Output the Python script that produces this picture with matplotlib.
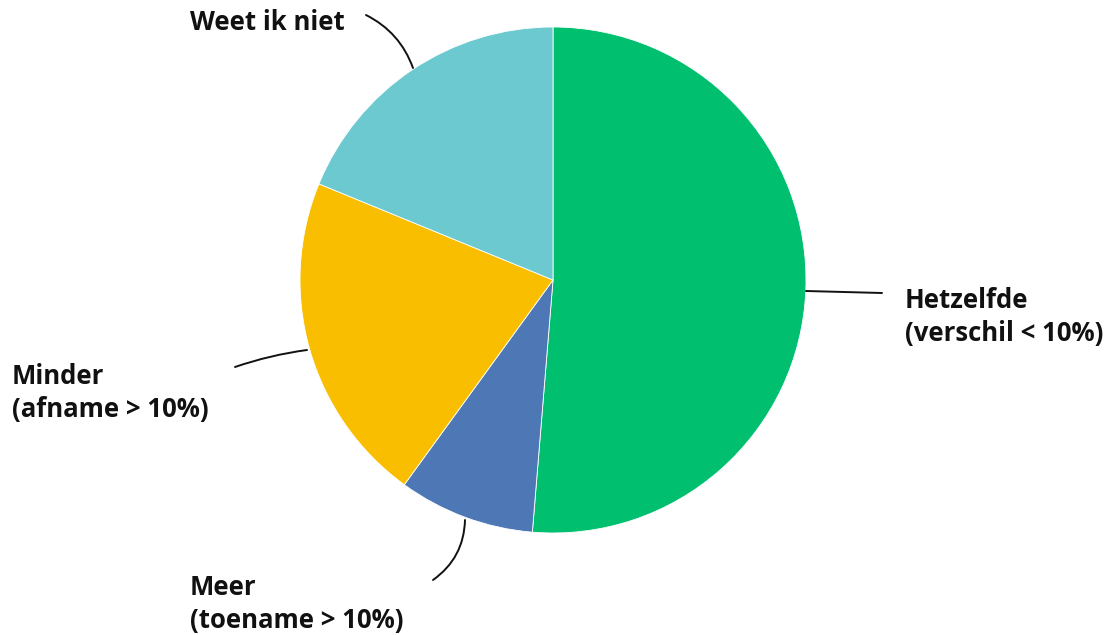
import matplotlib.pyplot as plt

# slices, clockwise from 12 o'clock
labels = ['Hetzelfde\n(verschil < 10%)', 'Meer\n(toename > 10%)',
          'Minder\n(afname > 10%)', 'Weet ik niet']
values = [51.3, 8.7, 21.2, 18.8]
colors = ['#00BF6F', '#4E78B5', '#F9BE00', '#6CC9CF']

W, H = 1118, 635
fig = plt.figure(figsize=(W / 100, H / 100), dpi=100)

# pie centre (553, 280) px, radius 253 px
cx, cy, r = 553, 280, 253
ax = fig.add_axes([(cx - r) / W, (H - cy - r) / H, 2 * r / W, 2 * r / H])
ax.pie(values, colors=colors, startangle=90, counterclock=False, radius=1,
       wedgeprops=dict(linewidth=0.6, edgecolor='white'))
ax.set_xlim(-1, 1)
ax.set_ylim(-1, 1)
ax.set_aspect('equal')
ax.axis('off')


def px(x, y):
    return ((x - cx) / r, (cy - y) / r)


font = dict(family='Open Sans', fontweight='bold', fontsize=18.5,
            color='#111111', linespacing=1.3)

# leader lines: (start on pie, end near label, curvature)
leaders = [
    ((806, 291), (882, 293), 0.0),
    ((465, 520), (433, 580), -0.25),
    ((307, 350), (235, 367), 0.05),
    ((413, 68), (366, 15), 0.2),
]
for (p0, p1, rad) in leaders:
    ax.annotate('', xy=px(*p1), xytext=px(*p0), xycoords='data',
                arrowprops=dict(arrowstyle='-', color='#111111', lw=1.4,
                                connectionstyle=f'arc3,rad={rad}',
                                shrinkA=0, shrinkB=0),
                annotation_clip=False)

# label anchor points (left edge, vertical centre of the block)
label_pos = [(905, 317), (190, 604), (12, 393), (190, 23)]
for lab, (x, y) in zip(labels, label_pos):
    fig.text(x / W, 1 - y / H, lab, ha='left', va='center', **font)

fig.savefig('out.png', dpi=100)
plt.close()
